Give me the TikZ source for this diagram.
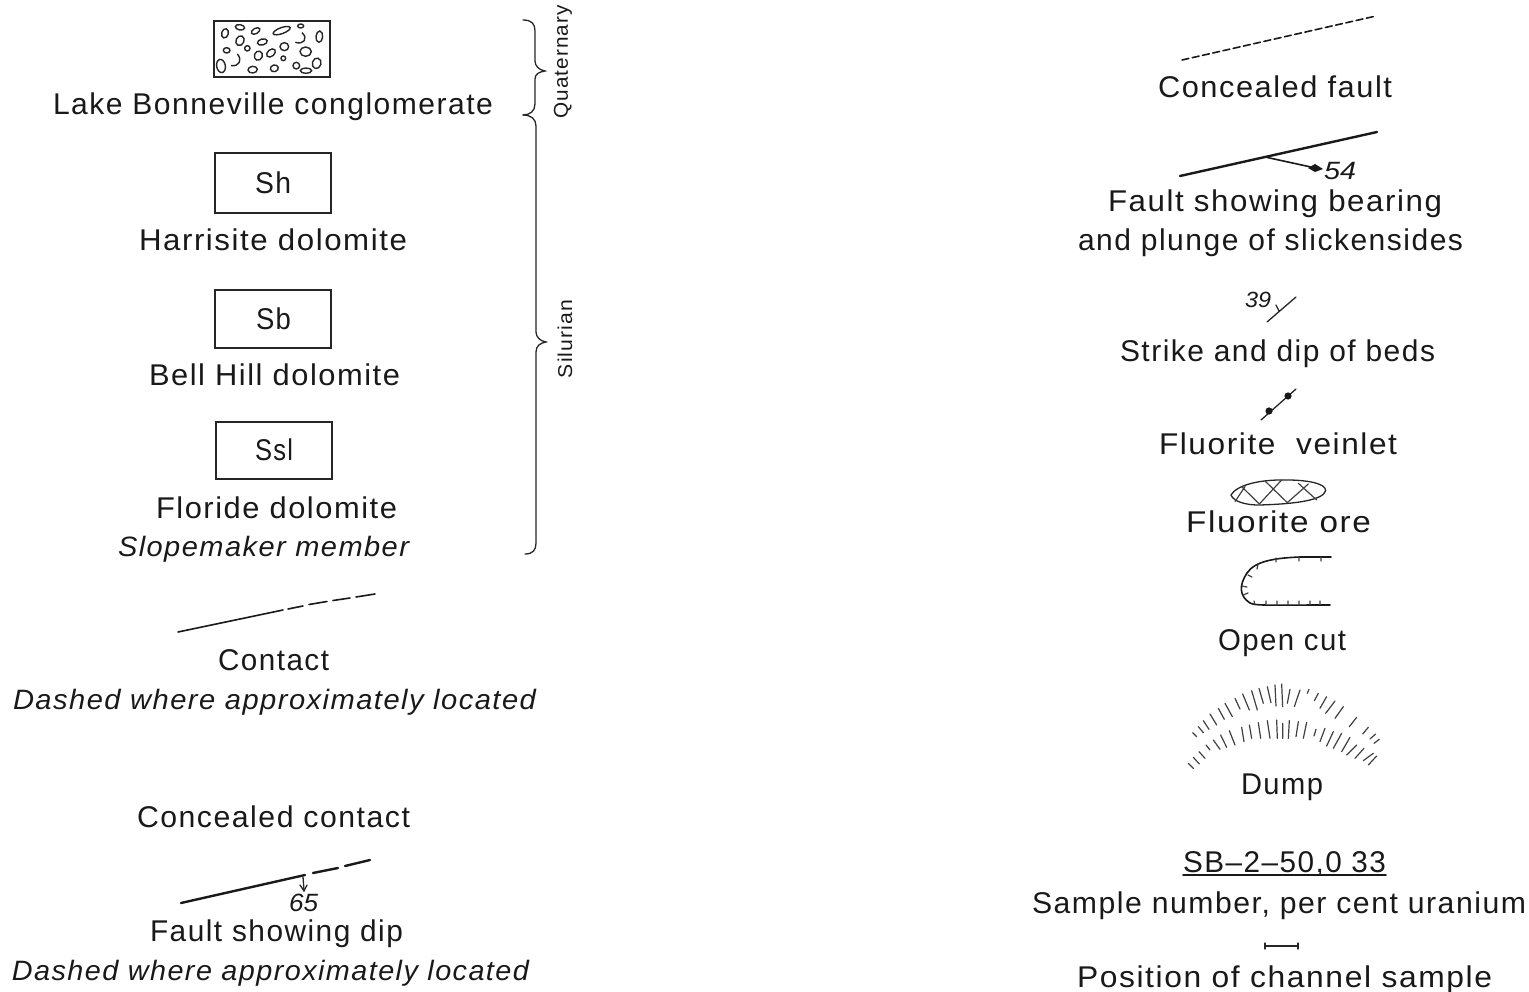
\documentclass[tikz,border=0pt]{standalone}
\usepackage{fontspec}
\usepackage{graphicx}
\setmainfont{Liberation Sans}
\newfontfamily\lblfont[LetterSpace=5]{Liberation Sans}
\newfontfamily\numfont{Liberation Sans}
\tikzset{
  lbl/.style={inner sep=0pt,outer sep=0pt,anchor=base west,text=black!90,font=\fontsize{30}{32}\selectfont\lblfont},
  ilbl/.style={lbl,font=\fontsize{28}{30}\selectfont\lblfont\itshape},
  nlbl/.style={lbl,font=\fontsize{25}{28}\selectfont\numfont\itshape},
  side/.style={lbl,anchor=center,rotate=90,font=\fontsize{20}{22}\selectfont\lblfont},
  unit/.style={lbl,draw=black!85,line width=1.4pt,minimum width=116pt,anchor=north west,inner sep=0pt},
  ink/.style={draw=black!90,line width=1.6pt,line cap=round},
  heavy/.style={ink,line width=2.4pt},
  thin/.style={draw=black!85,line width=1.3pt,line cap=round},
  pebble/.style={draw=black!85,line width=1.4pt},
  hach/.style={draw=black!75,line width=1.2pt,line cap=round}
}
\newcommand{\wtxt}[2]{\resizebox{#1pt}{\height}{#2}}
\newcommand{\peb}[5]{\draw[pebble] (#1,#2) ellipse [x radius=#3*.3333pt,y radius=#4*.3333pt,rotate=#5];}
\begin{document}
\begin{tikzpicture}[x=1pt,y=-1pt]
\useasboundingbox (0,0) rectangle (1529,992);
% --- left column ---
\node[unit,minimum height=56pt] (cg) at (214,21) {};
\begin{scope}[shift={(200,0)},x=.3333pt,y=-.3333pt]
\peb{75}{100}{10}{14}{-15}\peb{120}{82}{14}{8}{-10}\peb{167}{93}{14}{8}{30}\peb{245}{92}{27}{9}{20}
\peb{302}{78}{9}{6}{0}\peb{358}{110}{10}{17}{-5}\peb{120}{122}{12}{15}{-25}\peb{187}{126}{15}{9}{15}
\peb{142}{145}{8}{8}{0}\peb{80}{151}{10}{8}{0}\peb{253}{140}{13}{12}{0}\peb{317}{155}{17}{14}{0}
\peb{175}{167}{12}{14}{-20}\peb{213}{159}{15}{10}{40}\peb{250}{175}{7}{7}{0}\peb{63}{198}{13}{20}{10}
\peb{289}{197}{10}{10}{0}\peb{350}{190}{13}{16}{-15}\peb{158}{209}{14}{10}{5}\peb{223}{205}{12}{10}{15}\peb{318}{212}{17}{8}{0}
\draw[pebble] (112,162) .. controls (128,180) and (118,200) .. (93,197);
\draw[pebble] (306,98) .. controls (325,115) and (312,135) .. (286,127);
\end{scope}
\node[lbl] (lb) at (53,115) {\wtxt{440}{Lake Bonneville conglomerate}};
\node[unit,minimum height=60pt] (sh) at (215,153) {};
\node[lbl] (shT) at (255,194) {\wtxt{36}{Sh}};
\node[lbl] (hd) at (139,251) {\wtxt{268}{Harrisite dolomite}};
\node[unit,minimum height=58pt] (sb) at (215,290) {};
\node[lbl] (sbT) at (256,330) {\wtxt{35}{Sb}};
\node[lbl] (bh) at (149,385) {\wtxt{251}{Bell Hill dolomite}};
\node[unit,minimum height=57pt] (ssl) at (216,422) {};
\node[lbl] (sslT) at (255,460) {\wtxt{38}{Ssl}};
\node[lbl] (fd) at (156,518) {\wtxt{241}{Floride dolomite}};
\node[ilbl] (sm) at (118,556) {\wtxt{291}{Slopemaker member}};
% braces
\draw[thin] (523,20) .. controls (532,20) and (535,24) .. (535,31) -- (535,61) .. controls (535,66) and (539,70) .. (545,71) .. controls (539,72) and (535,74) .. (535,79) -- (535,104) .. controls (535,111) and (530,115) .. (523,115);
\draw[thin] (523,115) .. controls (531,115) and (536,119) .. (536,126) -- (536,332) .. controls (536,337) and (540,341) .. (546,342) .. controls (540,343) and (536,346) .. (536,352) -- (536,543) .. controls (536,550) and (533,554) .. (525,554);
\node[side] (qu) at (563,62) {\wtxt{113}{Quaternary}};
\node[side] (si) at (565,339) {\wtxt{78}{Silurian}};
% contact
\draw[ink] (178,632) -- (283,610);
\draw[ink] (288,609) -- (303,606) (309,604.5) -- (327,601.5) (333,600.5) -- (350,598) (356,597) -- (375,594);
\node[lbl] (ct) at (218,670) {\wtxt{111}{Contact}};
\node[ilbl] (dw1) at (13,709) {\wtxt{523}{Dashed where approximately located}};
\node[lbl] (cc) at (137,827) {\wtxt{273}{Concealed contact}};
% fault dip
\draw[heavy] (181,903) -- (305,875);
\draw[heavy] (313,873) -- (338,868) (345,866) -- (370,860);
\draw[thin] (303,877) -- (304,890);
\draw[thin] (300,885) -- (304,891) -- (307,885);
\node[nlbl] (n65) at (289,911) {\wtxt{29}{65}};
\node[lbl] (fsd) at (150,941) {\wtxt{253}{Fault showing dip}};
\node[ilbl] (dw2) at (12,980) {\wtxt{517}{Dashed where approximately located}};
% --- right column ---
\draw[ink,dash pattern=on 7pt off 3.5pt] (1182,60) -- (1376,16);
\node[lbl] (cf) at (1158,98) {\wtxt{234}{Concealed fault}};
\draw[heavy] (1180,176) -- (1377,132);
\draw[ink] (1265,157) -- (1320,169);
\fill[black!90] (1308,168) -- (1315,164) -- (1323,169) -- (1315,172) -- cycle;
\node[nlbl] (n54) at (1324,180) {\wtxt{32}{54}};
\node[lbl] (fb) at (1108,212) {\wtxt{334}{Fault showing bearing}};
\node[lbl] (pl) at (1078,251) {\wtxt{385}{and plunge of slickensides}};
\node[nlbl,font=\fontsize{22}{24}\selectfont\numfont\itshape] (n39) at (1245,308) {\wtxt{26}{39}};
\draw[thin] (1267,322) -- (1296,297) (1279,311) -- (1276,305);
\node[lbl] (sd) at (1120,362) {\wtxt{315}{Strike and dip of beds}};
\draw[thin] (1261,420) -- (1296,389);
\fill[black!90] (1269,411) circle (3.6pt) (1288,396) circle (3.6pt);
\node[lbl] (fv) at (1159,454) {\wtxt{238}{Fluorite\ \ veinlet}};
% ore
\begin{scope}[shift={(1200,280)},x=.3333pt,y=-.3333pt]
\draw[thin] (93,645) .. controls (110,615) and (180,598) .. (260,600) .. controls (320,600) and (378,610) .. (377,632) .. controls (370,660) and (290,672) .. (180,675) .. controls (140,676) and (100,665) .. (93,645) -- cycle;
\draw[hach] (125,620) -- (178,672) -- (245,600) (195,603) -- (262,668) -- (325,612) (295,610) -- (350,660) (105,665) -- (135,620);
\end{scope}
\node[lbl] (fo) at (1186,532) {\wtxt{185}{Fluorite ore}};
% open cut
\draw[ink] (1331,557) -- (1300,557) .. controls (1275,558) and (1255,561) .. (1247,573) .. controls (1239,585) and (1239,596) .. (1250,603) .. controls (1256,606) and (1270,605) .. (1330,605);
\draw[hach] (1276,558) -- (1276,562) (1299,557) -- (1299,561) (1321,557) -- (1321,561)
 (1258,564) -- (1257,569) (1248,575) -- (1252,577) (1242,586) -- (1247,587) (1243,595) -- (1248,593)
 (1255,605) -- (1254,601) (1266,605) -- (1266,601) (1277,605) -- (1277,601) (1288,605) -- (1288,601) (1299,605) -- (1299,601) (1310,605) -- (1310,601) (1320,605) -- (1320,601);
\node[lbl] (oc) at (1218,650) {\wtxt{128}{Open cut}};
% dump
\begin{scope}[shift={(1170,670)},x=.3333pt,y=-.3333pt]
\draw[hach] (68,188) -- (80,200) (85,170) -- (100,188) (100,152) -- (117,178) (120,132) -- (140,165) (145,115) -- (163,148) (165,100) -- (187,140) (195,85) -- (210,117) (218,72) -- (238,120) (245,62) -- (262,120) (267,55) -- (280,100) (292,50) -- (303,98) (315,45) -- (318,108) (335,42) -- (338,110) (360,58) -- (352,100) (390,60) -- (373,110) (417,58) -- (412,70) (445,70) -- (433,92) (470,80) -- (450,115) (495,93) -- (467,130) (520,110) -- (495,145) (560,142) -- (538,170) (595,172) -- (578,192) (617,192) -- (600,207) (628,208) -- (612,220);
\draw[hach] (55,280) -- (70,295) (70,262) -- (88,282) (87,245) -- (105,265) (108,225) -- (120,240) (130,210) -- (150,238) (152,195) -- (170,232) (178,182) -- (195,225) (215,172) -- (222,215) (238,165) -- (245,205) (265,158) -- (272,205) (292,152) -- (300,205) (320,150) -- (322,205) (338,160) -- (338,205) (358,152) -- (355,205) (385,155) -- (378,200) (410,157) -- (400,205) (438,178) -- (432,198) (465,175) -- (450,215) (490,185) -- (470,228) (515,190) -- (490,235) (540,202) -- (515,245) (560,225) -- (530,255) (582,235) -- (555,265) (610,250) -- (580,272) (620,258) -- (595,285);
\end{scope}
\node[lbl] (du) at (1241,794) {\wtxt{82}{Dump}};
\node[lbl] (sbn) at (1183,872) {\wtxt{203}{SB–2–50,0 33}};
\draw[ink] (sbn.base west) ++(0,3) -- ++(203,0);
\node[lbl] (sn) at (1032,913) {\wtxt{494}{Sample number, per cent uranium}};
\draw[thin] (1265,946) -- (1298,946) (1265,943) -- (1265,949) (1298,943) -- (1298,949);
\node[lbl] (pc) at (1077,987) {\wtxt{415}{Position of channel sample}};
\end{tikzpicture}
\end{document}
